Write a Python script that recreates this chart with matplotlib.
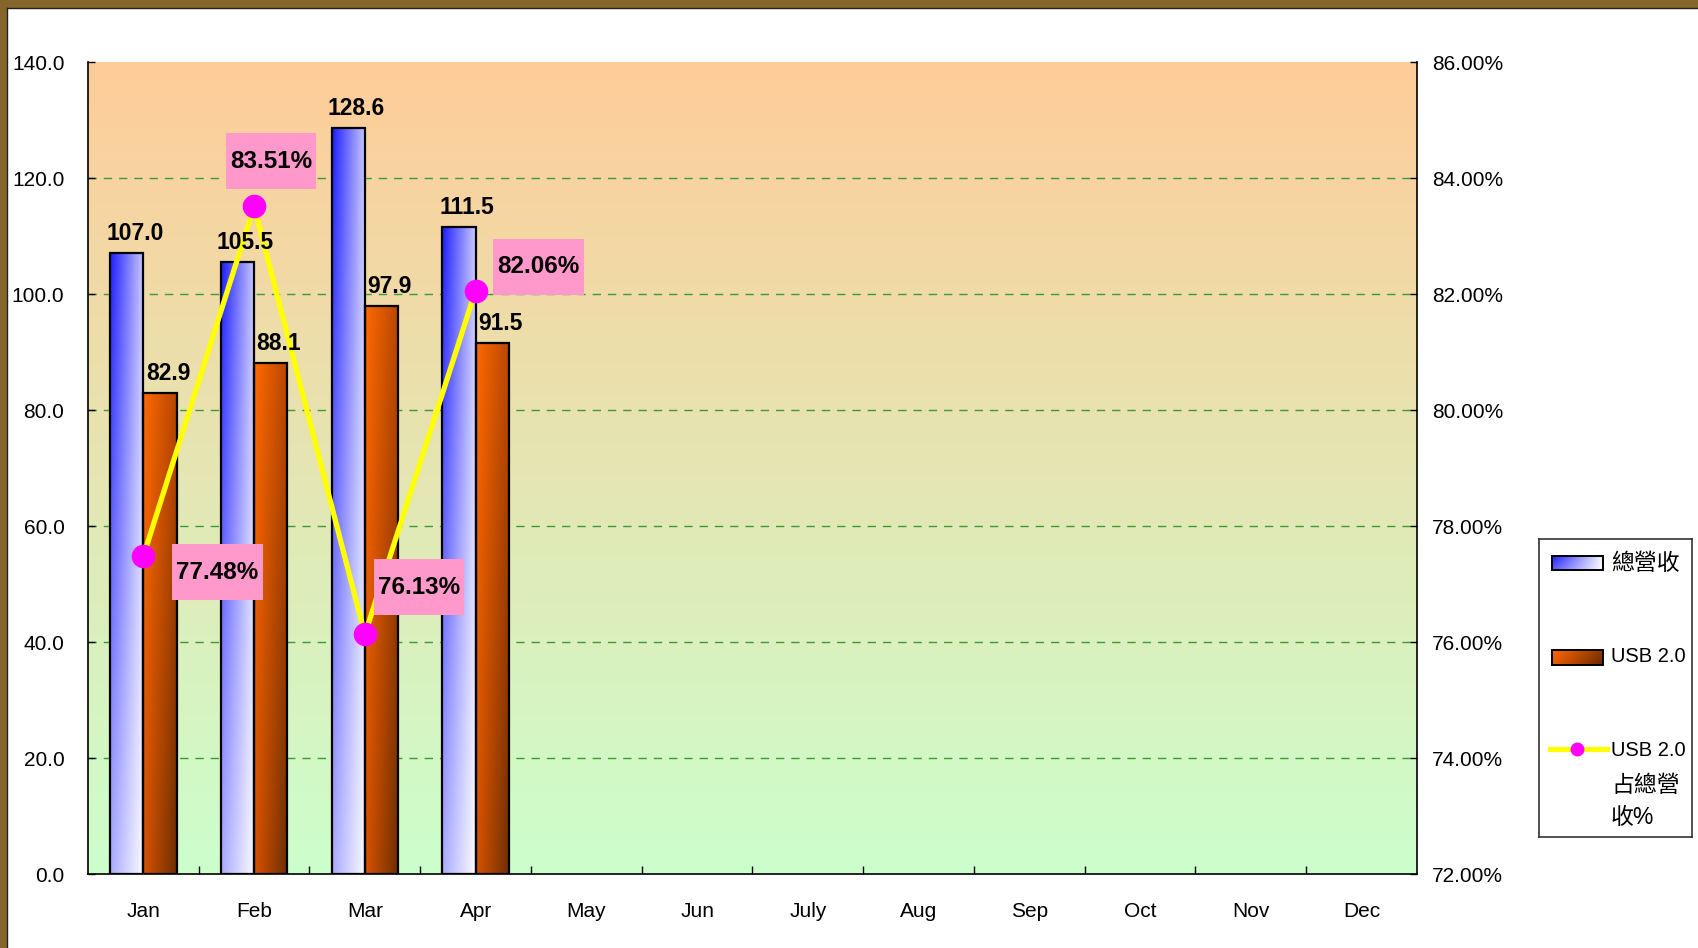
import numpy as np
import matplotlib
matplotlib.use('Agg')
import matplotlib.pyplot as plt
from matplotlib.patches import Rectangle
from matplotlib.lines import Line2D
from matplotlib import font_manager as fm
from matplotlib import colors as mcolors
from matplotlib.transforms import IdentityTransform

# ---------------- data ----------------
months = ['Jan', 'Feb', 'Mar', 'Apr', 'May', 'Jun', 'July', 'Aug', 'Sep', 'Oct', 'Nov', 'Dec']
total_revenue = [107.0, 105.5, 128.6, 111.5]
usb_revenue = [82.9, 88.1, 97.9, 91.5]
usb_share = [77.48, 83.51, 76.13, 82.06]
left_ticks = [0, 20, 40, 60, 80, 100, 120, 140]
right_ticks = [72, 74, 76, 78, 80, 82, 84, 86]
legend_labels = ['總營收', 'USB 2.0', 'USB 2.0\n占總營\n收%']

# ---------------- fonts ----------------
names = {f.name for f in fm.fontManager.ttflist}
base = 'Liberation Sans Narrow' if 'Liberation Sans Narrow' in names else 'Liberation Sans'
NARROW = base == 'Liberation Sans Narrow'
k = 1.2 if NARROW else 1.0
FAM = [base, 'Noto Sans CJK TC', 'DejaVu Sans']
plt.rcParams['font.family'] = FAM
plt.rcParams['lines.scale_dashes'] = False

W, H = 1699, 948
fig = plt.figure(figsize=(W / 100, H / 100), dpi=100)
fig.patch.set_facecolor('white')

ax_l, ax_r, ax_t, ax_b = 88, 1417, 62, 874
ax = fig.add_axes([ax_l / W, 1 - ax_b / H, (ax_r - ax_l) / W, (ax_b - ax_t) / H])


def grad(tl, tr, bl, br, nx=64, ny=160):
    u = np.linspace(0, 1, nx)[None, :, None]
    v = np.linspace(0, 1, ny)[:, None, None]
    c = lambda h: np.array(mcolors.to_rgb(h))[None, None, :]
    return c(tl) * (1 - u) * (1 - v) + c(tr) * u * (1 - v) + c(bl) * (1 - u) * v + c(br) * u * v


# background gradient
bg = grad('#FFCC99', '#FFCC99', '#CCFFCC', '#CCFFCC', nx=2, ny=256)
ax.imshow(bg, extent=(0, 1, 0, 1), transform=ax.transAxes, aspect='auto',
          origin='upper', zorder=0, interpolation='bilinear')

x = np.arange(len(total_revenue))
w = 0.3
b1 = ax.bar(x - w / 2, total_revenue, w, facecolor='none', edgecolor='black', lw=1.6, zorder=4)
b2 = ax.bar(x + w / 2, usb_revenue, w, facecolor='none', edgecolor='black', lw=1.6, zorder=4)

blue_g = grad('#1E1EFF', '#C8C8FF', '#AAAAFF', '#FCFCFF')
orange_g = grad('#FF6A00', '#B84600', '#D85200', '#6C2E00')
for bars, g in ((b1, blue_g), (b2, orange_g)):
    for p in bars:
        x0, y0 = p.get_x(), p.get_y()
        ax.imshow(g, extent=(x0, x0 + p.get_width(), y0, y0 + p.get_height()),
                  aspect='auto', origin='upper', zorder=3, interpolation='bilinear')

TICK_FS = 15 * k
ax.set_xlim(-0.5, len(months) - 0.5)
ax.set_ylim(left_ticks[0], left_ticks[-1])
ax.set_yticks(left_ticks)
ax.set_yticklabels([f'{t:.1f}' for t in left_ticks], fontsize=TICK_FS, va='center_baseline')
ax.set_xticks(np.arange(len(months)))
ax.set_xticklabels(months, fontsize=TICK_FS)
ax.set_xticks(np.arange(0.5, len(months) - 0.5, 1), minor=True)
ax.tick_params(axis='x', which='major', length=0, pad=20)
ax.tick_params(axis='x', which='minor', direction='in', length=6, width=1)
ax.tick_params(axis='y', direction='in', length=5, width=1, pad=17)
ax.yaxis.grid(True, color='#3D9B35', linestyle=(0, (6, 5)), lw=1)
ax.set_axisbelow(True)
for gl in ax.get_ygridlines():
    gl.set_zorder(1)
ax.get_ygridlines()[-1].set_visible(False)
ax.get_ygridlines()[0].set_visible(False)
ax.spines['top'].set_visible(False)
ax.spines['right'].set_visible(False)
for s in ('left', 'bottom'):
    ax.spines[s].set_linewidth(1.2)
    ax.spines[s].set_zorder(5)

ax2 = ax.twinx()
ax2.patch.set_visible(False)
ax2.plot(x, usb_share, color='#FFFF00', lw=3.8, marker='o', ms=16,
         mfc='#FF00FF', mec='#FF00FF', zorder=5, solid_joinstyle='round')
ax2.set_ylim(right_ticks[0], right_ticks[-1])
ax2.set_yticks(right_ticks)
ax2.set_yticklabels([f'{t:.2f}%' for t in right_ticks], fontsize=TICK_FS, va='center_baseline')
ax2.tick_params(axis='y', direction='in', length=5, width=1, pad=11)
for s in ('top', 'left', 'bottom'):
    ax2.spines[s].set_visible(False)
ax2.spines['right'].set_linewidth(1.2)

# bar value labels (above line)
for bars, vals in ((b1, total_revenue), (b2, usb_revenue)):
    for p, val in zip(bars, vals):
        ax2.annotate(f'{val:.1f}', xy=(p.get_x() + p.get_width() / 2, p.get_height()),
                     xycoords=ax.transData, xytext=(8, 8), textcoords='offset pixels',
                     ha='center', va='bottom', fontsize=16.5 * k, fontweight='bold', zorder=6)

# percentage labels with pink boxes
pct_offsets = [(74, -16), (17, 45), (54, 47), (63, 24)]
pct_texts = []
for xi, val, off in zip(x, usb_share, pct_offsets):
    t = ax2.annotate(f'{val:.2f}%', xy=(xi, val), xytext=off, textcoords='offset pixels',
                     ha='center', va='center', fontsize=17.5 * k, fontweight='bold', zorder=9)
    pct_texts.append(t)

fig.canvas.draw()
r = fig.canvas.get_renderer()
for t in pct_texts:
    bb = t.get_window_extent(r)
    cx, cy = (bb.x0 + bb.x1) / 2, (bb.y0 + bb.y1) / 2
    wp, hp = bb.width + 8, 56
    rect = Rectangle((cx - wp / 2, cy - hp / 2), wp, hp, transform=IdentityTransform(),
                     facecolor='#FF99CC', edgecolor='none', zorder=8)
    ax2.add_artist(rect)

# ---------------- legend (manual) ----------------
lg_l, lg_t, lg_r, lg_b = 1539, 539, 1692, 837
lax = fig.add_axes([lg_l / W, 1 - lg_b / H, (lg_r - lg_l) / W, (lg_b - lg_t) / H])
lax.set_xticks([])
lax.set_yticks([])
for s in lax.spines.values():
    s.set_linewidth(1.2)
    s.set_color('#333333')

hb = grad('#2020FF', '#F4F4FF', '#5A5AFF', '#FFFFFF', nx=64, ny=16)
ho = grad('#FF6600', '#8A3A00', '#E85C00', '#6A2800', nx=64, ny=16)
lax.imshow(hb, extent=(13, 64, 31, 17), aspect='auto', origin='upper', interpolation='bilinear')
lax.add_patch(Rectangle((13, 17), 51, 14, facecolor='none', edgecolor='black', lw=1.4))
lax.imshow(ho, extent=(13, 64, 126, 111), aspect='auto', origin='upper', interpolation='bilinear')
lax.add_patch(Rectangle((13, 111), 51, 15, facecolor='none', edgecolor='black', lw=1.4))
lax.add_line(Line2D([11, 68], [210, 210], color='#FFFF00', lw=3.8))
lax.add_line(Line2D([38], [210], marker='o', ms=9, mfc='#FF00FF', mec='#FF00FF'))
lax.set_xlim(0, lg_r - lg_l)
lax.set_ylim(lg_b - lg_t, 0)

LAT_FS = 14.5 * k
CJK_FS = 16.5
lax.text(72, 24, legend_labels[0], fontsize=CJK_FS, va='center', ha='left')
lax.text(72, 118, legend_labels[1], fontsize=LAT_FS, va='center', ha='left')
third = legend_labels[2].split('\n')
for line, yy in zip(third, [211, 246, 278]):
    lax.text(72, yy, line, fontsize=LAT_FS if line.isascii() else CJK_FS,
             va='center', ha='left')

# ---------------- frame border ----------------
border = '#86652A'
fig.add_artist(Rectangle((0, 0), 7 / W, 1, transform=fig.transFigure,
                         facecolor=border, edgecolor='none', zorder=20))
fig.add_artist(Rectangle((0, 1 - 8 / H), 1, 8 / H, transform=fig.transFigure,
                         facecolor=border, edgecolor='none', zorder=20))
fig.add_artist(Line2D([7 / W, 7 / W], [0, 1 - 8 / H], transform=fig.transFigure,
                      color='#222222', lw=1, zorder=21))
fig.add_artist(Line2D([7 / W, 1], [1 - 8 / H, 1 - 8 / H], transform=fig.transFigure,
                      color='#222222', lw=1, zorder=21))

fig.savefig('out.png', dpi=100, facecolor='white')
